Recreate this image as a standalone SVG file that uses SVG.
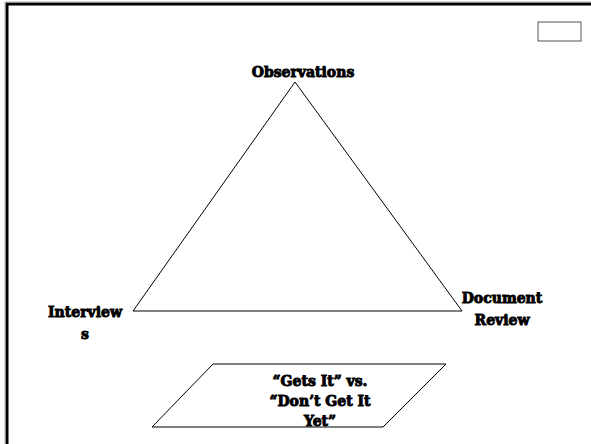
<svg xmlns="http://www.w3.org/2000/svg" width="591" height="444" viewBox="0 0 591 444">
<style>
.lbl{font-family:"DejaVu Serif","Liberation Serif",serif;font-weight:bold;font-size:14px;fill:#000;stroke:#000;stroke-width:0.9;text-anchor:middle}
.shape{fill:#fff;stroke:#000;stroke-width:1}
</style>
<rect x="0" y="0" width="591" height="444" fill="#fff"/>
<g id="frame">
<rect x="7" y="4" width="600" height="460" fill="none" stroke="#000" stroke-width="3"/>
<rect x="5" y="2" width="604" height="464" fill="none" stroke="#999" stroke-width="0.8"/>
</g>
<g id="smallbox"><rect x="538" y="22" width="43" height="19" fill="#fff" stroke="#555" stroke-width="1"/></g>
<g id="connectors">
<polygon class="shape" points="295,82 133,311 462,311"/>
</g>
<g id="observations"><text class="lbl" x="303" y="77">Observations</text></g>
<g id="interviews"><text class="lbl" x="85" y="317">Interview</text><text class="lbl" x="85" y="339">s</text></g>
<g id="document"><text class="lbl" x="502" y="303">Document</text><text class="lbl" x="502" y="325">Review</text></g>
<g id="gets">
<polygon class="shape" points="213,364 446,364 383,427 152,427" stroke="#555"/>
<text class="lbl" x="320" y="386">“Gets It” vs.</text>
<text class="lbl" x="320" y="406">“Don’t Get It</text>
<text class="lbl" x="320" y="426">Yet”</text>
</g>
</svg>
